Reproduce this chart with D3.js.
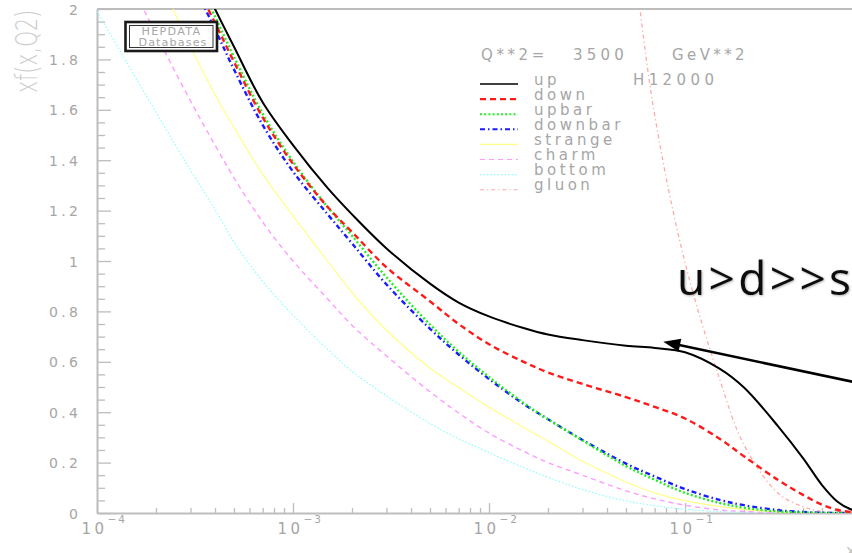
<!DOCTYPE html>
<html>
<head>
<meta charset="utf-8">
<script src="https://cdn.jsdelivr.net/npm/d3@7"></script>
<style>
  html, body { margin: 0; padding: 0; background: #ffffff; }
  svg { display: block; }
</style>
</head>
<body>
<svg id="chart" width="852" height="553"></svg>
<script>
// ---------------- data ----------------
const xValues = [1e-4, 2e-4, 3e-4, 4e-4, 5e-4, 7e-4, 1e-3, 1.5e-3, 2e-3, 3e-3, 5e-3, 7e-3,
                 1e-2, 1.5e-2, 2e-2, 3e-2, 5e-2, 7e-2, 0.1, 0.15, 0.2, 0.3, 0.4, 0.5, 0.6, 0.7, 0.8, 0.9, 1.0];

const upValues      = [null, null, 2.2, 2.0, 1.85, 1.63, 1.46, 1.29, 1.185, 1.05, 0.91, 0.835,
                       0.78, 0.734, 0.708, 0.686, 0.664, 0.655, 0.638, 0.573, 0.498, 0.342, 0.218, 0.111, 0.045, 0.015, 0.005, 0.001, 0];
const downValues    = [null, null, 2.14, 1.945, 1.79, 1.57, 1.385, 1.215, 1.115, 0.975, 0.84, 0.75,
                       0.67, 0.60, 0.558, 0.512, 0.46, 0.421, 0.375, 0.295, 0.225, 0.13, 0.072, 0.033, 0.012, 0.004, 0.001, 0, 0];
const upbarValues   = [null, null, 2.17, 1.97, 1.81, 1.585, 1.395, 1.215, 1.10, 0.935, 0.748, 0.64,
                       0.54, 0.437, 0.372, 0.288, 0.186, 0.132, 0.08, 0.04, 0.021, 0.006, 0.002, 0, 0, 0, 0, 0, 0];
const downbarValues = [null, null, 2.12, 1.92, 1.76, 1.54, 1.355, 1.186, 1.07, 0.907, 0.731, 0.629,
                       0.532, 0.433, 0.372, 0.29, 0.196, 0.145, 0.095, 0.052, 0.031, 0.011, 0.004, 0.001, 0, 0, 0, 0, 0];
const strangeValues = [2.55, 2.14, 1.85, 1.66, 1.53, 1.345, 1.18, 1.0, 0.875, 0.725, 0.575, 0.498,
                       0.42, 0.34, 0.285, 0.205, 0.123, 0.08, 0.049, 0.026, 0.014, 0.004, 0.001, 0, 0, 0, 0, 0, 0];
const charmValues   = [2.38, 1.9, 1.635, 1.46, 1.33, 1.155, 1.0, 0.85, 0.745, 0.623, 0.481, 0.397,
                       0.317, 0.245, 0.2, 0.15, 0.088, 0.056, 0.031, 0.012, 0.006, 0.002, 0.001, 0, 0, 0, 0, 0, 0];
const bottomValues  = [1.99, 1.59, 1.36, 1.205, 1.075, 0.92, 0.785, 0.65, 0.562, 0.465, 0.355, 0.295,
                       0.24, 0.18, 0.142, 0.093, 0.048, 0.029, 0.015, 0.006, 0.003, 0.001, 0, 0, 0, 0, 0, 0, 0];
const gluonValues   = [null, null, null, null, null, null, null, null, null, null, null, null,
                       null, null, null, 3.3, 2.4, 1.58, 0.994, 0.533, 0.27, 0.077, 0.025, 0.006, 0.001, 0, 0, 0, 0];

const seriesNames = ["up", "down", "upbar", "downbar", "strange", "charm", "bottom", "gluon"];

const yTickValues = [0, 0.2, 0.4, 0.6, 0.8, 1.0, 1.2, 1.4, 1.6, 1.8, 2.0];
const yTickLabels = ["0", "0.2", "0.4", "0.6", "0.8", "1", "1.2", "1.4", "1.6", "1.8", "2"];
const xTickValues = [1e-4, 1e-3, 1e-2, 1e-1, 1];
const xTickBase = ["10", "10", "10", "10", "10"];
const xTickExponents = ["\u22124", "\u22123", "\u22122", "\u22121", "0"];

const yAxisTitle = "xf(x,Q2)";
const xAxisTitle = "x";
const qLabel = "Q**2=";
const qValue = "3500";
const qUnit = "GeV**2";
const setName = "H12000";
const badgeLines = ["HEPDATA", "Databases"];
const annotationText = "u>d>>s";

// ---------------- styles ----------------
const styles = {
  up:      { color: "#000000", width: 2.0, dash: null },
  down:    { color: "#ff1a1a", width: 2.4, dash: "6,4" },
  upbar:   { color: "#22ee22", width: 2.4, dash: "2,2.2" },
  downbar: { color: "#1a1aff", width: 2.4, dash: "5,3,1.5,3" },
  strange: { color: "#ffff88", width: 1.2, dash: null },
  charm:   { color: "#ff9cff", width: 1.4, dash: "5,4" },
  bottom:  { color: "#8cffff", width: 1.2, dash: "1.5,2" },
  gluon:   { color: "#ffaaaa", width: 1.3, dash: "4,3,1.2,3" }
};
const seriesData = {
  up: upValues, down: downValues, upbar: upbarValues, downbar: downbarValues,
  strange: strangeValues, charm: charmValues, bottom: bottomValues, gluon: gluonValues
};

const axisColor = "#bdbdbd";
const textColor = "#a6a6a6";
const FONT = "'DejaVu Sans', sans-serif";

// ---------------- layout ----------------
const pL = 97, pR = 881, pT = 9, pB = 513;
const svg = d3.select("#chart");

const x = d3.scaleLog().domain([1e-4, 1]).range([pL, pR]);
const y = d3.scaleLinear().domain([0, 2]).range([pB, pT]);

const defs = svg.append("defs");
defs.append("clipPath").attr("id", "plotClip")
  .append("rect").attr("x", pL).attr("y", pT).attr("width", pR - pL).attr("height", pB - pT);

// frame (top & right)
svg.append("line").attr("x1", pL).attr("x2", pR).attr("y1", pT).attr("y2", pT)
  .attr("stroke", axisColor).attr("stroke-width", 2);
svg.append("line").attr("x1", pR).attr("x2", pR).attr("y1", pT).attr("y2", pB)
  .attr("stroke", axisColor).attr("stroke-width", 2);

// y axis: major ticks
const yMajor = svg.append("g").attr("transform", `translate(${pL},0)`)
  .call(d3.axisLeft(y).tickValues(yTickValues).tickSizeInner(-14).tickSizeOuter(0).tickPadding(19)
        .tickFormat((d, i) => yTickLabels[i]));
// y axis: minor ticks
const yMinorVals = d3.range(0, 41).map(i => i * 0.05).filter(v => Math.abs(v * 5 - Math.round(v * 5)) > 1e-6);
svg.append("g").attr("transform", `translate(${pL},0)`)
  .call(d3.axisLeft(y).tickValues(yMinorVals).tickSizeInner(-8).tickSizeOuter(0).tickFormat(""))
  .call(g => g.select(".domain").remove());

// x axis: major & minor
const xMinorVals = [];
[-4, -3, -2, -1].forEach(e => { for (let k = 2; k <= 9; k++) xMinorVals.push(k * Math.pow(10, e)); });
const xMajor = svg.append("g").attr("transform", `translate(0,${pB})`)
  .call(d3.axisBottom(x).tickValues(xTickValues).tickSizeInner(-10).tickSizeOuter(0).tickFormat(""));
svg.append("g").attr("transform", `translate(0,${pB})`)
  .call(d3.axisBottom(x).tickValues(xMinorVals).tickSizeInner(-5).tickSizeOuter(0).tickFormat(""))
  .call(g => g.select(".domain").remove());

svg.selectAll(".domain").attr("stroke", axisColor).attr("stroke-width", 2);
svg.selectAll(".tick line").attr("stroke", axisColor).attr("stroke-width", 1.3);

yMajor.selectAll(".tick text")
  .attr("fill", textColor).attr("font-family", FONT).attr("font-size", 14)
  .attr("letter-spacing", "3.4px").attr("dx", "3.4").attr("dy", null)
  .attr("y", 5).attr("text-anchor", "end");

// x tick labels: 10 with superscript exponent
xMajor.selectAll(".tick").each(function (d, i) {
  const g = d3.select(this);
  g.append("text").attr("x", -16).attr("y", 21).attr("text-anchor", "start")
    .attr("fill", textColor).attr("font-family", FONT).attr("font-size", 15)
    .attr("letter-spacing", "3.5px").text(xTickBase[i]);
  g.append("text").attr("x", 10).attr("y", 10).attr("text-anchor", "start")
    .attr("fill", textColor).attr("font-family", FONT).attr("font-size", 10.5)
    .attr("letter-spacing", "2px").text(xTickExponents[i]);
});

// axis titles
svg.append("text").attr("transform", `translate(36.5,51.5) rotate(-90)`)
  .attr("text-anchor", "middle").attr("font-family", FONT).attr("font-size", 31)
  .attr("font-weight", 200).attr("fill", "#cbcbcb")
  .attr("textLength", 83).attr("lengthAdjust", "spacingAndGlyphs").text(yAxisTitle);
svg.append("text").attr("x", 846).attr("y", 556).attr("font-family", FONT).attr("font-size", 16)
  .attr("fill", "#c4c4c4").text(xAxisTitle);

// ---------------- curves ----------------
const line = d3.line()
  .defined(d => d.v !== null)
  .x(d => x(d.x)).y(d => y(d.v))
  .curve(d3.curveCatmullRom.alpha(0.5));

const curves = svg.append("g").attr("clip-path", "url(#plotClip)");
const drawOrder = ["bottom", "charm", "strange", "gluon", "downbar", "upbar", "down", "up"];
drawOrder.forEach(name => {
  const pts = xValues.map((xv, i) => ({ x: xv, v: seriesData[name][i] }));
  const st = styles[name];
  curves.append("path").datum(pts)
    .attr("d", line).attr("fill", "none")
    .attr("stroke", st.color).attr("stroke-width", st.width)
    .attr("stroke-dasharray", st.dash)
    .attr("stroke-linejoin", "round");
});

// ---------------- legend ----------------
const legend = svg.append("g");
legend.append("text").attr("x", 481).attr("y", 60).attr("fill", textColor).attr("font-family", FONT)
  .attr("font-size", 15).attr("letter-spacing", "3.6px").text(qLabel);
legend.append("text").attr("x", 573).attr("y", 60).attr("fill", textColor).attr("font-family", FONT)
  .attr("font-size", 15).attr("letter-spacing", "4.2px").text(qValue);
legend.append("text").attr("x", 672).attr("y", 60).attr("fill", textColor).attr("font-family", FONT)
  .attr("font-size", 15).attr("letter-spacing", "3.4px").text(qUnit);
legend.append("text").attr("x", 633).attr("y", 85).attr("fill", textColor).attr("font-family", FONT)
  .attr("font-size", 15).attr("letter-spacing", "4.4px").text(setName);

seriesNames.forEach((name, i) => {
  const yy = 84.5 + i * 15.1;
  const st = styles[name];
  legend.append("line").attr("x1", 480).attr("x2", 518).attr("y1", yy - 0.5).attr("y2", yy - 0.5)
    .attr("stroke", st.color).attr("stroke-width", Math.max(st.width - 0.3, 1.1))
    .attr("stroke-dasharray", st.dash);
  legend.append("text").attr("x", 534).attr("y", yy).attr("fill", textColor)
    .attr("font-family", FONT).attr("font-size", 15).attr("letter-spacing", "3.5px").text(name);
});

// ---------------- HEPDATA badge ----------------
const badge = svg.append("g");
badge.append("rect").attr("x", 125.5).attr("y", 22).attr("width", 91.5).attr("height", 29)
  .attr("fill", "#ffffff").attr("stroke", "#1a1a1a").attr("stroke-width", 2.6);
badge.append("rect").attr("x", 129.5).attr("y", 25.5).attr("width", 83.5).attr("height", 22)
  .attr("fill", "none").attr("stroke", "#333333").attr("stroke-width", 1);
badge.append("text").attr("x", 171.5).attr("y", 35).attr("text-anchor", "middle")
  .attr("fill", "#a8a8a8").attr("font-family", FONT).attr("font-size", 11.2)
  .attr("letter-spacing", "1.3px").text(badgeLines[0]);
badge.append("text").attr("x", 173).attr("y", 45.5).attr("text-anchor", "middle")
  .attr("fill", "#a8a8a8").attr("font-family", FONT).attr("font-size", 11.2)
  .attr("letter-spacing", "1.1px").text(badgeLines[1]);

// ---------------- annotation ----------------
const f = defs.append("filter").attr("id", "shadow").attr("x", "-10%").attr("y", "-10%")
  .attr("width", "120%").attr("height", "130%");
f.append("feDropShadow").attr("dx", 0.8).attr("dy", 0.8).attr("stdDeviation", 0.8)
  .attr("flood-color", "#000").attr("flood-opacity", 0.35);

svg.append("text").attr("x", 677).attr("y", 295)
  .attr("font-family", "'Open Sans', 'Lato', sans-serif").attr("font-size", 46)
  .attr("fill", "#111111").attr("filter", "url(#shadow)")
  .attr("textLength", 174).attr("lengthAdjust", "spacing")
  .text(annotationText);

// arrow: tail off the right edge, tip on the "up" shoulder
const tip = [663.3, 341.7], tail = [900, 391.7];
const adx = tip[0] - tail[0], ady = tip[1] - tail[1];
const alen = Math.hypot(adx, ady), ux = adx / alen, uy = ady / alen;
const headLen = 17, headHalf = 6.5;
const base = [tip[0] - ux * headLen, tip[1] - uy * headLen];
svg.append("line").attr("x1", tail[0]).attr("y1", tail[1]).attr("x2", base[0] + ux * 2).attr("y2", base[1] + uy * 2)
  .attr("stroke", "#000").attr("stroke-width", 2.6);
svg.append("path")
  .attr("d", `M${tip[0]},${tip[1]} L${base[0] - uy * headHalf},${base[1] + ux * headHalf} L${base[0] + uy * headHalf},${base[1] - ux * headHalf} Z`)
  .attr("fill", "#000");
</script>
</body>
</html>
